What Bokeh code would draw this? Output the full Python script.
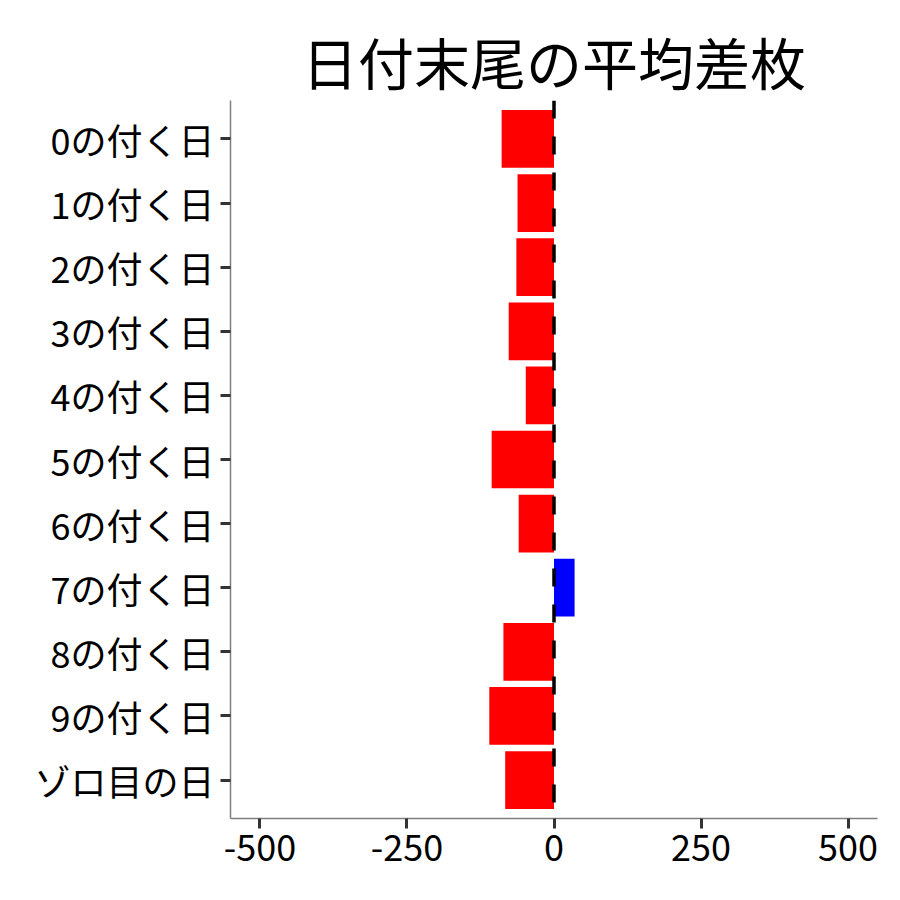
from bokeh.plotting import figure
from bokeh.models import FactorRange, Range1d, Span, FixedTicker, ColumnDataSource
from bokeh.embed import file_html
from bokeh.resources import INLINE

categories = ["0の付く日", "1の付く日", "2の付く日", "3の付く日", "4の付く日",
              "5の付く日", "6の付く日", "7の付く日", "8の付く日", "9の付く日", "ゾロ目の日"]
values = [-89, -62, -64, -77, -48, -106, -60, 35, -86, -110, -83]
x_ticks = [-500, -250, 0, 250, 500]
x_tick_labels = ["-500", "-250", "0", "250", "500"]
title_text = "日付末尾の平均差枚"

colors = ["#FF0000" if v < 0 else "#0000FF" for v in values]
src = ColumnDataSource(dict(cat=categories, val=values, color=colors))

FONT = "Noto Sans CJK JP"

p = figure(
    y_range=FactorRange(factors=list(reversed(categories)), range_padding=0.1,
                        range_padding_units="absolute"),
    x_range=Range1d(-550, 550),
    frame_width=647, frame_height=718,
    min_border_left=230, min_border_top=100, min_border_right=15, min_border_bottom=74,
    output_backend="svg", toolbar_location=None,
)

p.hbar(y="cat", left=0, right="val", height=0.9, fill_color="color", line_color=None, source=src)

p.add_layout(Span(location=0, dimension="height", line_color="black", line_width=3.5, line_dash="18 18"))

p.title.text = title_text
p.title.text_font = FONT
p.title.text_font_size = "56px"
p.title.text_font_style = "normal"
p.title.text_color = "black"
p.title.align = "center"
p.title.standoff = 0

p.xgrid.visible = False
p.ygrid.visible = False
p.outline_line_color = None
p.background_fill_color = "white"
p.border_fill_color = "white"

p.xaxis.ticker = FixedTicker(ticks=x_ticks)
p.xaxis.major_label_overrides = {t: s for t, s in zip(x_ticks, x_tick_labels)}
for ax in (p.xaxis, p.yaxis):
    ax.axis_line_color = "#7f7f7f"
    ax.axis_line_width = 1.5
    ax.major_tick_line_color = "#333333"
    ax.major_tick_line_width = 3
    ax.major_tick_out = 10
    ax.major_tick_in = 0
    ax.minor_tick_line_color = None
    ax.major_label_text_font = FONT
    ax.major_label_text_font_size = "36px"
    ax.major_label_text_color = "black"
    ax.major_label_standoff = 6

open("out.html", "w").write(file_html(p, INLINE))
